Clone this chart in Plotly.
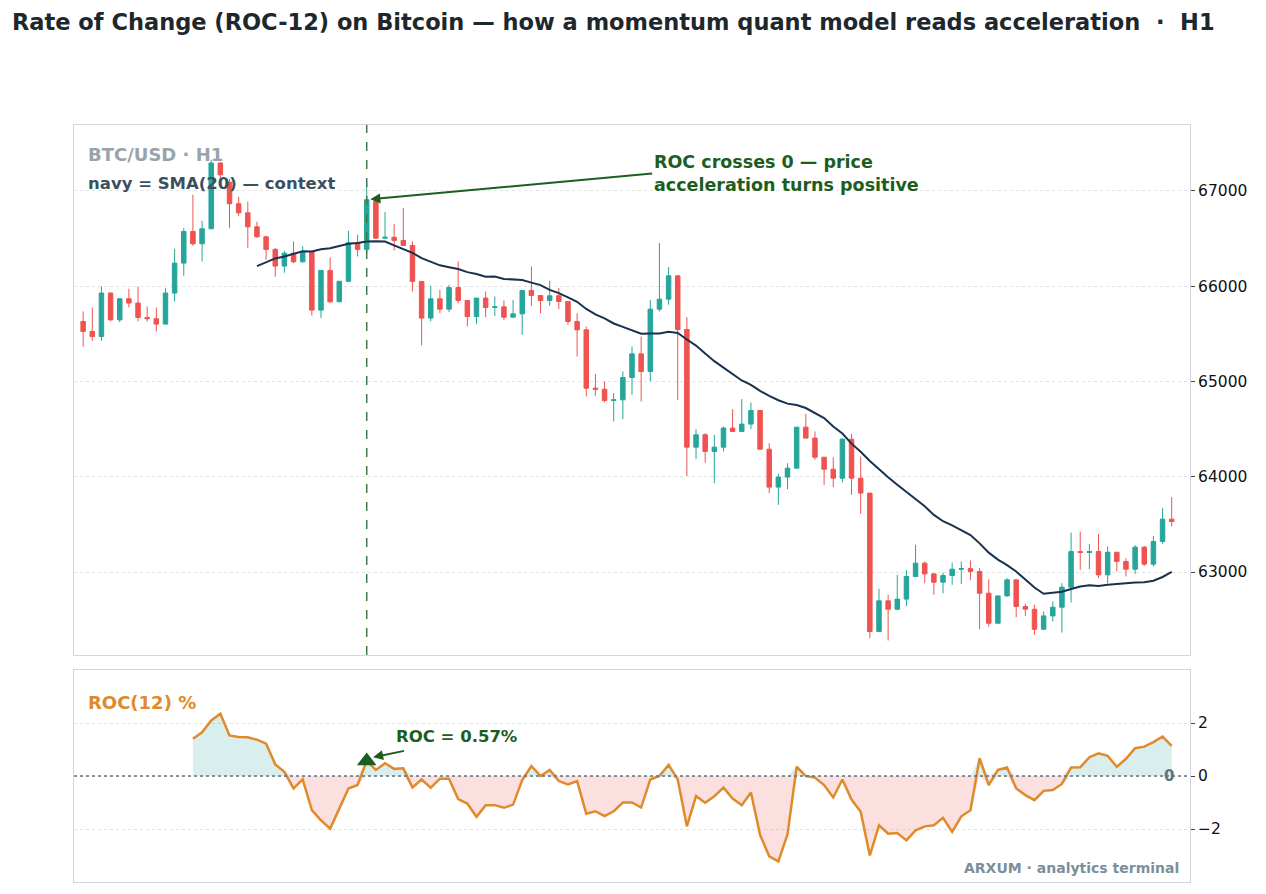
import numpy as np
import pandas as pd
import plotly.graph_objects as go
from plotly.subplots import make_subplots

# --- BTC/USD H1 candles ---
opens = [65629, 65524, 65471, 65927, 65646, 65867, 65822, 65671, 65657, 65601,
         65927, 66241, 66573, 66444, 66601, 67291, 67090, 66864, 66769, 66622,
         66517, 66385, 66210, 66345, 66255, 66360, 65748, 66164, 65836, 66050,
         66455, 66385, 66890, 66503, 66512, 66479, 66426, 66049, 65664, 65867,
         65758, 65985, 65849, 65681, 65874, 65776, 65782, 65674, 65709, 65954,
         65902, 65849, 65898, 65839, 65629, 65541, 64929, 64918, 64800, 64807,
         65041, 65289, 65104, 65758, 65863, 66108, 65544, 64310, 64440, 64265,
         64310, 64510, 64475, 64552, 64695, 64289, 63891, 63996, 64090, 64520,
         64405, 64205, 64079, 63985, 64394, 63985, 63828, 62376, 62698, 62610,
         62716, 62953, 63093, 62981, 62894, 62964, 63030, 63036, 63006, 62778,
         62463, 62750, 62918, 62638, 62610, 62400, 62540, 62631, 62841, 63215,
         63205, 63215, 62971, 63208, 63111, 63030, 63261, 63083, 63320, 63555]
highs = [65734, 65776, 65996, 65930, 65875, 65972, 65996, 65786, 65776, 65977,
         66391, 66608, 66958, 66685, 67325, 67300, 67126, 66937, 66885, 66675,
         66528, 66402, 66370, 66468, 66420, 66370, 66164, 66300, 66056, 66580,
         66538, 67080, 66910, 66776, 66654, 66818, 66468, 66049, 66003, 65961,
         66013, 66258, 65849, 65874, 65944, 65891, 65849, 65856, 65954, 66206,
         65902, 66055, 65979, 65839, 65716, 65576, 65080, 64999, 64877, 65104,
         65366, 65471, 65856, 66451, 66199, 66108, 65674, 64499, 64457, 64440,
         64527, 64709, 64814, 64779, 64695, 64352, 64031, 64142, 64520, 64660,
         64475, 64205, 64205, 64405, 64450, 64212, 63828, 62824, 62761, 62971,
         63023, 63286, 63111, 62981, 62995, 63100, 63111, 63121, 63041, 62925,
         62750, 62936, 62925, 62666, 62656, 62586, 62691, 62883, 63415, 63425,
         63296, 63401, 63268, 63208, 63146, 63282, 63275, 63380, 63670, 63786]
lows = [65366, 65426, 65426, 65630, 65620, 65776, 65629, 65629, 65524, 65601,
        65838, 66108, 66423, 66258, 66601, 67100, 66612, 66738, 66402, 66507,
        66276, 66098, 66140, 66240, 66245, 65692, 65664, 65822, 65830, 66045,
        66311, 66353, 66493, 66493, 66374, 66426, 65944, 65377, 65629, 65716,
        65727, 65821, 65576, 65604, 65674, 65688, 65646, 65674, 65489, 65793,
        65716, 65793, 65758, 65594, 65261, 64842, 64849, 64779, 64580, 64604,
        64860, 64789, 64999, 65734, 65804, 64807, 64009, 64184, 64149, 63932,
        64265, 64475, 64475, 64499, 64282, 63828, 63705, 63870, 64090, 64405,
        64177, 63915, 63891, 63940, 63810, 63611, 62306, 62376, 62282, 62600,
        62645, 62953, 62883, 62761, 62778, 62866, 62876, 62918, 62400, 62428,
        62463, 62740, 62526, 62540, 62341, 62395, 62481, 62365, 62680, 63023,
        63030, 62936, 62883, 63006, 62953, 62981, 63065, 63058, 63296, 63478]
closes = [65524, 65471, 65927, 65646, 65867, 65822, 65671, 65657, 65601, 65927,
          66241, 66573, 66444, 66601, 67291, 67168, 66864, 66769, 66622, 66517,
          66385, 66210, 66345, 66255, 66360, 65748, 66164, 65836, 66050, 66455,
          66385, 66906, 66503, 66512, 66479, 66426, 66049, 65664, 65867, 65758,
          65985, 65849, 65681, 65874, 65776, 65782, 65674, 65709, 65954, 65902,
          65849, 65898, 65839, 65629, 65541, 64929, 64918, 64800, 64807, 65041,
          65289, 65104, 65758, 65863, 66108, 65544, 64310, 64440, 64265, 64310,
          64510, 64475, 64552, 64695, 64289, 63891, 63996, 64090, 64520, 64405,
          64205, 64079, 63985, 64394, 63985, 63828, 62376, 62698, 62610, 62716,
          62953, 63093, 62981, 62894, 62964, 63030, 63036, 63006, 62778, 62463,
          62750, 62918, 62638, 62610, 62400, 62540, 62631, 62841, 63215, 63205,
          63215, 62971, 63208, 63111, 63030, 63261, 63083, 63320, 63555, 63530]

# ROC(12) in %, first value sits on bar 12
roc_start = 12
roc_values = [1.41, 1.65, 2.10, 2.35, 1.53, 1.47, 1.46, 1.37, 1.22, 0.44,
              0.16, -0.47, -0.13, -1.29, -1.67, -1.99, -1.23, -0.47, -0.34, 0.57,
              0.23, 0.48, 0.27, 0.29, -0.43, -0.13, -0.44, -0.10, -0.10, -0.87,
              -1.04, -1.54, -1.10, -1.10, -1.20, -1.08, -0.15, 0.38, 0.00, 0.23,
              -0.19, -0.32, -0.19, -1.42, -1.33, -1.51, -1.33, -1.00, -1.00, -1.19,
              -0.13, 0.00, 0.42, -0.13, -1.90, -0.76, -1.01, -0.76, -0.44, -0.85,
              -1.10, -0.62, -2.22, -3.03, -3.22, -2.20, 0.35, 0.00, -0.06, -0.34,
              -0.81, -0.13, -0.89, -1.35, -3.00, -1.86, -2.18, -2.15, -2.43, -2.05,
              -1.90, -1.86, -1.58, -2.11, -1.52, -1.29, 0.67, -0.34, 0.23, 0.32,
              -0.47, -0.72, -0.91, -0.56, -0.53, -0.30, 0.32, 0.33, 0.71, 0.86,
              0.76, 0.35, 0.65, 1.05, 1.11, 1.28, 1.49, 1.14]

signal_bar = 31
signal_roc = 0.57

bars = list(range(len(closes)))
roc_x = list(range(roc_start, roc_start + len(roc_values)))

sma20 = pd.Series(closes).rolling(20).mean()
roc_arr = np.array(roc_values)
roc_pos = np.where(roc_arr > 0, roc_arr, 0)
roc_neg = np.where(roc_arr < 0, roc_arr, 0)

UP = "#26a69a"
DOWN = "#ef5350"
NAVY = "#17324f"
ORANGE = "#e08a2c"
GREEN = "#1b5e20"
FONT = "DejaVu Sans"

fig = make_subplots(rows=2, cols=1, shared_xaxes=True)

fig.add_trace(go.Candlestick(
    x=bars, open=opens, high=highs, low=lows, close=closes,
    increasing=dict(line=dict(color=UP, width=1), fillcolor=UP),
    decreasing=dict(line=dict(color=DOWN, width=1), fillcolor=DOWN),
    whiskerwidth=0, showlegend=False, hoverinfo="skip"
), row=1, col=1)

fig.add_trace(go.Scatter(x=bars, y=sma20, mode="lines",
                         line=dict(color=NAVY, width=2), showlegend=False),
              row=1, col=1)

# ROC fills (teal above zero, pink below)
fig.add_trace(go.Scatter(x=roc_x, y=roc_pos, mode="lines", line=dict(width=0),
                         fill="tozeroy", fillcolor="rgba(38,166,154,0.18)",
                         showlegend=False, hoverinfo="skip"), row=2, col=1)
fig.add_trace(go.Scatter(x=roc_x, y=roc_neg, mode="lines", line=dict(width=0),
                         fill="tozeroy", fillcolor="rgba(239,83,80,0.18)",
                         showlegend=False, hoverinfo="skip"), row=2, col=1)
fig.add_trace(go.Scatter(x=roc_x, y=roc_values, mode="lines",
                         line=dict(color=ORANGE, width=2.5), showlegend=False),
              row=2, col=1)
fig.add_trace(go.Scatter(x=[signal_bar], y=[signal_roc], mode="markers",
                         marker=dict(symbol="triangle-up", size=17, color=GREEN),
                         showlegend=False), row=2, col=1)

# zero line in ROC panel
fig.add_hline(y=0, line=dict(color="#5f7480", width=1.6, dash="dot"), row=2, col=1)
# signal bar marker in price panel
fig.add_vline(x=signal_bar, line=dict(color="#3f7a4c", width=1.5, dash="dash"), row=1, col=1)

# page body has an 8px margin, so margins are trimmed by 8
fig.update_layout(
    width=1266, height=894,
    paper_bgcolor="white", plot_bgcolor="white",
    margin=dict(l=66, r=84, t=117, b=20),
    font=dict(family=FONT, color="#222"),
    title=dict(text="<b>Rate of Change (ROC-12) on Bitcoin — how a momentum quant model reads acceleration  ·  H1</b>",
               x=4 / 1266, xanchor="left", y=1 - 14 / 894, yanchor="middle",
               font=dict(size=22.5, color="#1e272c")),
    showlegend=False,
    hovermode=False,
)

axis_common = dict(showline=True, mirror=True, linecolor="#d3d7da", linewidth=1)
fig.update_xaxes(range=[-1, 121], showgrid=False, showticklabels=False, ticks="",
                 zeroline=False, rangeslider=dict(visible=False), **axis_common)
fig.update_yaxes(side="right", showgrid=True, gridcolor="#e3e3e3", griddash="dot",
                 zeroline=False, ticks="outside", ticklen=4, tickcolor="#444",
                 tickfont=dict(size=15.5, color="#111"), **axis_common)
fig.update_layout(
    yaxis=dict(domain=[0.2999, 1.0], range=[62130, 67690], tickformat="d",
               tickvals=[63000, 64000, 65000, 66000, 67000]),
    yaxis2=dict(domain=[0.0, 0.280], range=[-4, 4], tickvals=[-2, 0, 2],
                ticktext=["\u22122", "0", "2"]),
)

fig.add_annotation(text="<b>BTC/USD · H1</b>", xref="x domain", yref="y domain",
                   x=0.011, y=0.968, xanchor="left", yanchor="top", showarrow=False,
                   font=dict(size=18, color="#98a4aa"))
fig.add_annotation(text="<b>navy = SMA(20) — context</b>", xref="x domain", yref="y domain",
                   x=0.011, y=0.912, xanchor="left", yanchor="top", showarrow=False,
                   font=dict(size=16.5, color="#3c4f5c"))
fig.add_annotation(text="<b>ROC crosses 0 — price<br>acceleration turns positive</b>",
                   x=signal_bar + 0.4, y=66910, xref="x", yref="y",
                   ax=62.2, ay=67180, axref="x", ayref="y",
                   xanchor="left", yanchor="middle", align="left",
                   showarrow=True, arrowhead=2, arrowsize=1, arrowwidth=2,
                   arrowcolor=GREEN, font=dict(size=17.5, color=GREEN))

fig.add_annotation(text="<b>ROC(12) %</b>", xref="x2 domain", yref="y2 domain",
                   x=0.011, y=0.905, xanchor="left", yanchor="top", showarrow=False,
                   font=dict(size=18, color=ORANGE))
# label and its arrow drawn separately (arrow tail sits below the text)
fig.add_annotation(text="<b>ROC = 0.57%</b>", x=34.0, y=1.48, xref="x2", yref="y2",
                   xanchor="left", yanchor="middle", showarrow=False,
                   font=dict(size=16.5, color=GREEN))
fig.add_annotation(text="", x=31.7, y=0.71, xref="x2", yref="y2",
                   ax=35.25, ay=0.96, axref="x2", ayref="y2",
                   showarrow=True, arrowhead=2, arrowsize=1, arrowwidth=2,
                   arrowcolor=GREEN)
fig.add_annotation(text="<b>0</b>", x=119.5, y=0, xref="x2", yref="y2",
                   xanchor="right", yanchor="middle", showarrow=False,
                   font=dict(size=15, color="#5f7480"))
fig.add_annotation(text="<b>ARXUM · analytics terminal</b>", xref="x2 domain", yref="y2 domain",
                   x=0.992, y=0.02, xanchor="right", yanchor="bottom", showarrow=False,
                   font=dict(size=14, color="#7b8f9b"))

fig.write_html("out.html")
